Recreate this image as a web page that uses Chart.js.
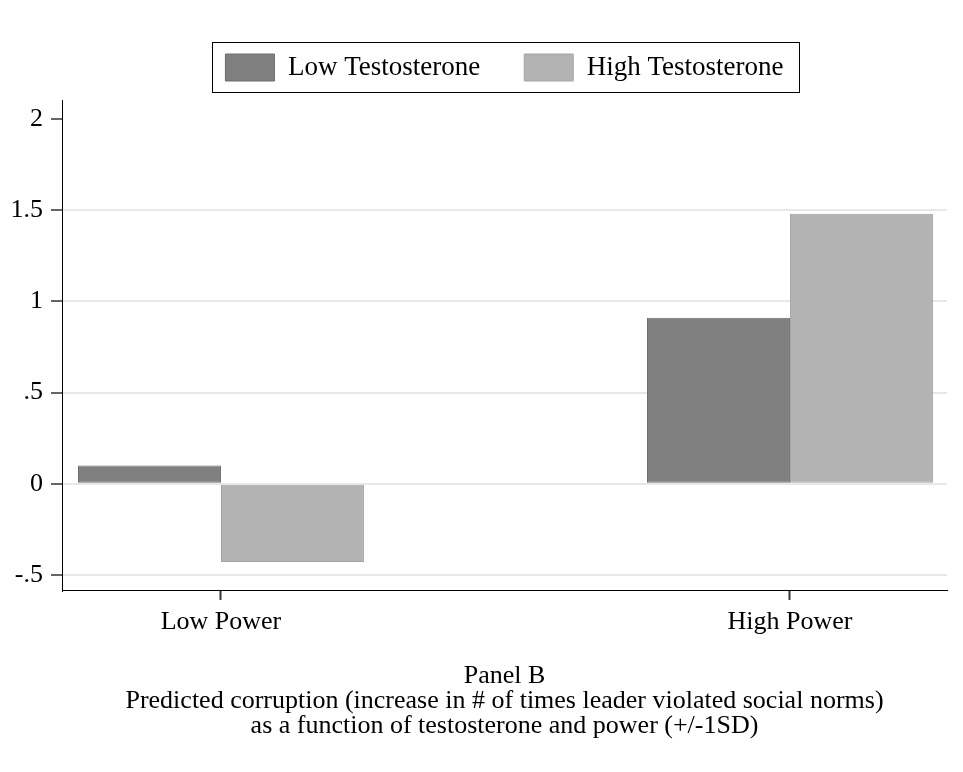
<!DOCTYPE html>
<html>
<head>
<meta charset="utf-8">
<title>Panel B</title>
<script src="https://cdn.jsdelivr.net/npm/chart.js@4/dist/chart.umd.min.js"></script>
<style>
  html, body { margin: 0; padding: 0; background: #fff; }
  #wrap { width: 963px; height: 772px; }
</style>
</head>
<body>
<div id="wrap"><canvas id="myChart" width="963" height="772"></canvas></div>
<script>
// Data
const categories = ['Low Power', 'High Power'];
const categoryPos = [1, 2];
const lowTestosterone = [0.10, 0.91];
const highTestosterone = [-0.43, 1.48];
const seriesNames = ['Low Testosterone', 'High Testosterone'];
const yTicks = [-0.5, 0, 0.5, 1, 1.5, 2];
const yTickLabels = ['-.5', '0', '.5', '1', '1.5', '2'];
const titleLines = [
  'Panel B',
  'Predicted corruption (increase in # of times leader violated social norms)',
  'as a function of testosterone and power (+/-1SD)'
];

const serif = "'Liberation Serif', 'Times New Roman', serif";

function toPoints(values) {
  return values.map((v, i) => ({ x: categoryPos[i], y: v }));
}

// Legend + title are centered on the plot region, not on the canvas
const centerOnPlot = {
  id: 'centerOnPlot',
  afterInit(chart) {
    // extra room between legend and plot
    const fit = chart.legend.fit;
    chart.legend.fit = function () {
      fit.call(this);
      this.height += 9;
    };
  },
  afterLayout(chart) {
    const mid = (chart.chartArea.left + chart.chartArea.right) / 2;
    [chart.legend, chart.titleBlock].forEach(box => {
      if (!box) return;
      const shift = mid - (box.left + box.right) / 2;
      box.left += shift;
      box.right += shift;
    });
  },
  afterDraw(chart) {
    // frame around the legend
    const lg = chart.legend;
    const pad = lg.options.labels.padding;
    const w = lg.lineWidths[0] - pad;
    const cx = (lg.left + lg.right) / 2;
    const top = lg.top + pad;
    const ctx = chart.ctx;
    ctx.save();
    ctx.strokeStyle = '#000';
    ctx.lineWidth = 1;
    ctx.strokeRect(Math.round(cx - w / 2 - 13) + 0.5, Math.round(top - 12) + 0.5,
                   Math.round(w + 29), 50);
    ctx.restore();
  }
};

const ctx = document.getElementById('myChart').getContext('2d');

const myChart = new Chart(ctx, {
  type: 'bar',
  data: {
    datasets: [
      {
        label: seriesNames[0],
        data: toPoints(lowTestosterone),
        backgroundColor: '#808080',
        borderColor: '#6c6c6c',
        borderWidth: 1,
        borderSkipped: false,
        categoryPercentage: 0.5026,
        barPercentage: 1
      },
      {
        label: seriesNames[1],
        data: toPoints(highTestosterone),
        backgroundColor: '#b3b3b3',
        borderColor: '#a4a4a4',
        borderWidth: 1,
        borderSkipped: false,
        categoryPercentage: 0.5026,
        barPercentage: 1
      }
    ]
  },
  options: {
    responsive: false,
    animation: false,
    layout: { padding: { top: 10, left: 12, right: 16, bottom: 23 } },
    scales: {
      x: {
        type: 'linear',
        offset: false,
        min: 0.7206,
        max: 2.276,
        afterBuildTicks: scale => { scale.ticks = categoryPos.map(v => ({ value: v })); },
        ticks: {
          padding: 7,
          maxRotation: 0,
          color: '#000',
          font: { family: serif, size: 26 },
          callback: v => categories[categoryPos.indexOf(v)]
        },
        grid: {
          offset: false,
          drawOnChartArea: false,
          drawTicks: true,
          tickLength: 9,
          tickColor: '#333',
          tickWidth: 2
        },
        border: { display: true, color: '#000', width: 1 }
      },
      y: {
        min: -0.588,
        max: 2.104,
        afterBuildTicks: scale => { scale.ticks = yTicks.map(v => ({ value: v })); },
        afterFit: scale => { scale.width = 50; },
        ticks: {
          padding: 8,
          color: '#000',
          font: { family: serif, size: 26 },
          callback: v => yTickLabels[yTicks.indexOf(v)]
        },
        grid: {
          color: c => (c.tick && c.tick.value === 2 ? 'rgba(0,0,0,0)' : '#e8e8e8'),
          lineWidth: 2,
          tickLength: 11,
          tickColor: '#333',
          tickWidth: 1.5
        },
        border: { display: true, color: '#000', width: 1 }
      }
    },
    plugins: {
      legend: {
        position: 'top',
        labels: {
          boxWidth: 49,
          boxHeight: 27,
          padding: 44,
          color: '#000',
          font: { family: serif, size: 27 }
        }
      },
      title: {
        display: true,
        position: 'bottom',
        text: titleLines,
        color: '#000',
        font: { family: serif, size: 26, weight: 'normal', lineHeight: 0.96 },
        padding: { top: 19, bottom: 10 }
      },
      tooltip: { enabled: false }
    }
  },
  plugins: [centerOnPlot]
});
</script>
</body>
</html>
